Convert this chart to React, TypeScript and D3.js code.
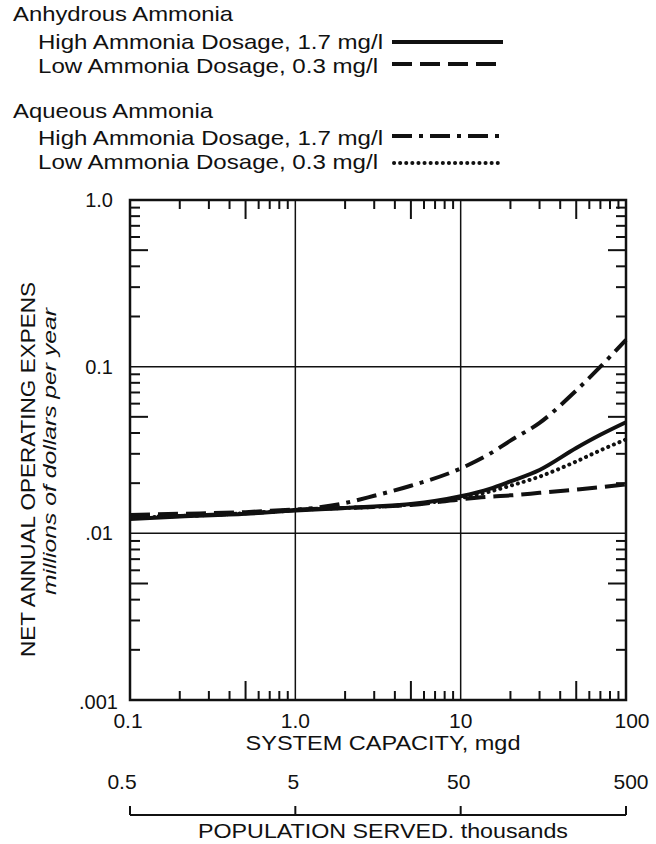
import React from "react";
import * as d3 from "d3";

const capacity = [0.1, 0.2, 0.5, 1, 2, 3, 5, 10, 15, 20, 30, 50, 70, 100];

const anhydrousHigh = [0.0122, 0.0126, 0.0131, 0.0137, 0.0142, 0.0145, 0.015, 0.0167, 0.0185, 0.0205, 0.024, 0.0325, 0.039, 0.0464];
const anhydrousLow = [0.0129, 0.0131, 0.0134, 0.0139, 0.0142, 0.0144, 0.0148, 0.016, 0.0166, 0.0169, 0.0175, 0.0183, 0.0189, 0.0197];
const aqueousHigh = [0.0125, 0.0127, 0.0132, 0.0138, 0.0152, 0.0168, 0.0193, 0.0245, 0.03, 0.036, 0.046, 0.072, 0.1, 0.145];
const aqueousLow = [0.0124, 0.0127, 0.0132, 0.0138, 0.0142, 0.0144, 0.0149, 0.0163, 0.0178, 0.0193, 0.0219, 0.027, 0.0315, 0.0366];

const xTicks = [0.1, 1, 10, 100];
const xTickLabels = ["0.1", "1.0", "10", "100"];
const yTicks = [1, 0.1, 0.01, 0.001];
const yTickLabels = ["1.0", "0.1", ".01", ".001"];
const popTicks = [0.5, 5, 50, 500];
const popTickLabels = ["0.5", "5", "50", "500"];

const legendGroups = ["Anhydrous Ammonia", "Aqueous Ammonia"];
const legendItems = [
  "High Ammonia Dosage, 1.7 mg/l",
  "Low Ammonia Dosage, 0.3 mg/l",
  "High Ammonia Dosage, 1.7 mg/l",
  "Low Ammonia Dosage, 0.3 mg/l",
];

const FONT = "'Liberation Sans', Arial, Helvetica, sans-serif";

const styles = [
  { dash: undefined as string | undefined, cap: "butt", width: 4 },
  { dash: "20,8", cap: "butt", width: 4 },
  { dash: "20,7,4,7", cap: "butt", width: 4 },
  { dash: "0.1,6", cap: "round", width: 4 },
];

export default function App() {
  const x = d3.scaleLog().domain([0.1, 100]).range([130, 626]);
  const y = d3.scaleLog().domain([0.001, 1]).range([700, 200]);
  const series = [anhydrousHigh, anhydrousLow, aqueousHigh, aqueousLow];
  const line = d3
    .line<number>()
    .x((_, i) => x(capacity[i]))
    .y((d) => y(d))
    .curve(d3.curveMonotoneX);

  const xDecades = [0.1, 1, 10];
  const yDecades = [0.001, 0.01, 0.1];
  const ks = [2, 3, 4, 5, 6, 7, 8, 9];

  const legendTextLen = [345, 340, 345, 340];
  const legendBaselines = [49, 73, 145, 169];
  const legendLineY = [42, 64, 136, 163];
  const groupBaselines = [21, 118];
  const groupLens = [220, 200];

  return (
    <svg
      width={656}
      height={844}
      style={{ position: "absolute", left: 0, top: 0, background: "#fff" }}
      fontFamily={FONT}
    >
      <rect x={0} y={0} width={656} height={844} fill="#fff" />
      {/* Legend */}
      {legendGroups.map((g, i) => (
        <text key={g} x={13} y={groupBaselines[i]} fontSize={21} textLength={groupLens[i]} lengthAdjust="spacingAndGlyphs" fill="#111">
          {g}
        </text>
      ))}
      {legendItems.map((t, i) => (
        <g key={i}>
          <text x={38} y={legendBaselines[i]} fontSize={21} textLength={legendTextLen[i]} lengthAdjust="spacingAndGlyphs" fill="#111">
            {t}
          </text>
          <line
            x1={i === 3 ? 394 : 392}
            x2={503}
            y1={legendLineY[i]}
            y2={legendLineY[i]}
            stroke="#111"
            strokeWidth={styles[i].width}
            strokeDasharray={styles[i].dash}
            strokeLinecap={styles[i].cap as any}
          />
        </g>
      ))}

      {/* Gridlines */}
      {[1, 10].map((v) => (
        <line key={"gx" + v} x1={x(v)} x2={x(v)} y1={200} y2={700} stroke="#111" strokeWidth={1.5} />
      ))}
      {[0.1, 0.01].map((v) => (
        <line key={"gy" + v} x1={130} x2={626} y1={y(v)} y2={y(v)} stroke="#111" strokeWidth={1.5} />
      ))}

      {/* Minor ticks */}
      {xDecades.flatMap((d) =>
        ks.map((k) => {
          const len = k === 5 ? 19 : 9;
          const xv = x(d * k);
          return (
            <g key={"tx" + d + k}>
              <line x1={xv} x2={xv} y1={200} y2={200 + len} stroke="#111" strokeWidth={2} />
              <line x1={xv} x2={xv} y1={700} y2={700 - len} stroke="#111" strokeWidth={2} />
            </g>
          );
        })
      )}
      {yDecades.flatMap((d) =>
        ks.map((k) => {
          const len = k === 5 ? 18 : 10;
          const yv = y(d * k);
          return (
            <g key={"ty" + d + k}>
              <line x1={130} x2={130 + len} y1={yv} y2={yv} stroke="#111" strokeWidth={2} />
              <line x1={626} x2={626 - len} y1={yv} y2={yv} stroke="#111" strokeWidth={2} />
            </g>
          );
        })
      )}

      {/* Frame */}
      <rect x={130} y={200} width={496} height={500} fill="none" stroke="#111" strokeWidth={2.5} />

      {/* Curves */}
      <defs>
        <clipPath id="plotClip">
          <rect x={130} y={198} width={498} height={504} />
        </clipPath>
      </defs>
      <g clipPath="url(#plotClip)">
        {series.map((s, i) => (
          <path
            key={i}
            d={line(s) || ""}
            fill="none"
            stroke="#111"
            strokeWidth={styles[i].width}
            strokeDasharray={styles[i].dash}
            strokeLinecap={styles[i].cap as any}
            strokeLinejoin="round"
          />
        ))}
      </g>

      {/* X tick labels */}
      {xTicks.map((v, i) => (
        <text key={"xl" + v} x={x(v) + (i === 3 ? 6 : i === 0 ? -2 : 0)} y={728} fontSize={21} textAnchor="middle" fill="#111">
          {xTickLabels[i]}
        </text>
      ))}
      <text x={383} y={750} fontSize={21} textAnchor="middle" textLength={275} lengthAdjust="spacingAndGlyphs" fill="#111">
        SYSTEM CAPACITY, mgd
      </text>

      {/* Y tick labels */}
      {yTicks.map((v, i) => (
        <text key={"yl" + v} x={i === 3 ? 118 : 113} y={y(v) + (i === 3 ? 9 : 7)} fontSize={20} textAnchor="end" fill="#111">
          {yTickLabels[i]}
        </text>
      ))}

      {/* Y axis titles */}
      <text transform="translate(35,657) rotate(-90)" fontSize={21} textLength={375} lengthAdjust="spacingAndGlyphs" fill="#111">
        NET ANNUAL OPERATING EXPENS
      </text>
      <text transform="translate(56,595) rotate(-90)" fontSize={19} fontStyle="italic" textLength={287} lengthAdjust="spacingAndGlyphs" fill="#111">
        millions of dollars per year
      </text>

      {/* Population axis */}
      <line x1={x(popTicks[0] / 5)} x2={x(popTicks[3] / 5)} y1={815} y2={815} stroke="#111" strokeWidth={2} />
      {popTicks.map((p, i) => (
        <g key={"p" + p}>
          <line x1={x(p / 5)} x2={x(p / 5)} y1={815} y2={806} stroke="#111" strokeWidth={2} />
          <text x={x(p / 5) + (i === 0 ? -8 : i === 3 ? 5 : -2)} y={789} fontSize={21} textAnchor="middle" fill="#111">
            {popTickLabels[i]}
          </text>
        </g>
      ))}
      <text x={383} y={838} fontSize={21} textAnchor="middle" textLength={370} lengthAdjust="spacingAndGlyphs" fill="#111">
        POPULATION SERVED. thousands
      </text>
    </svg>
  );
}
